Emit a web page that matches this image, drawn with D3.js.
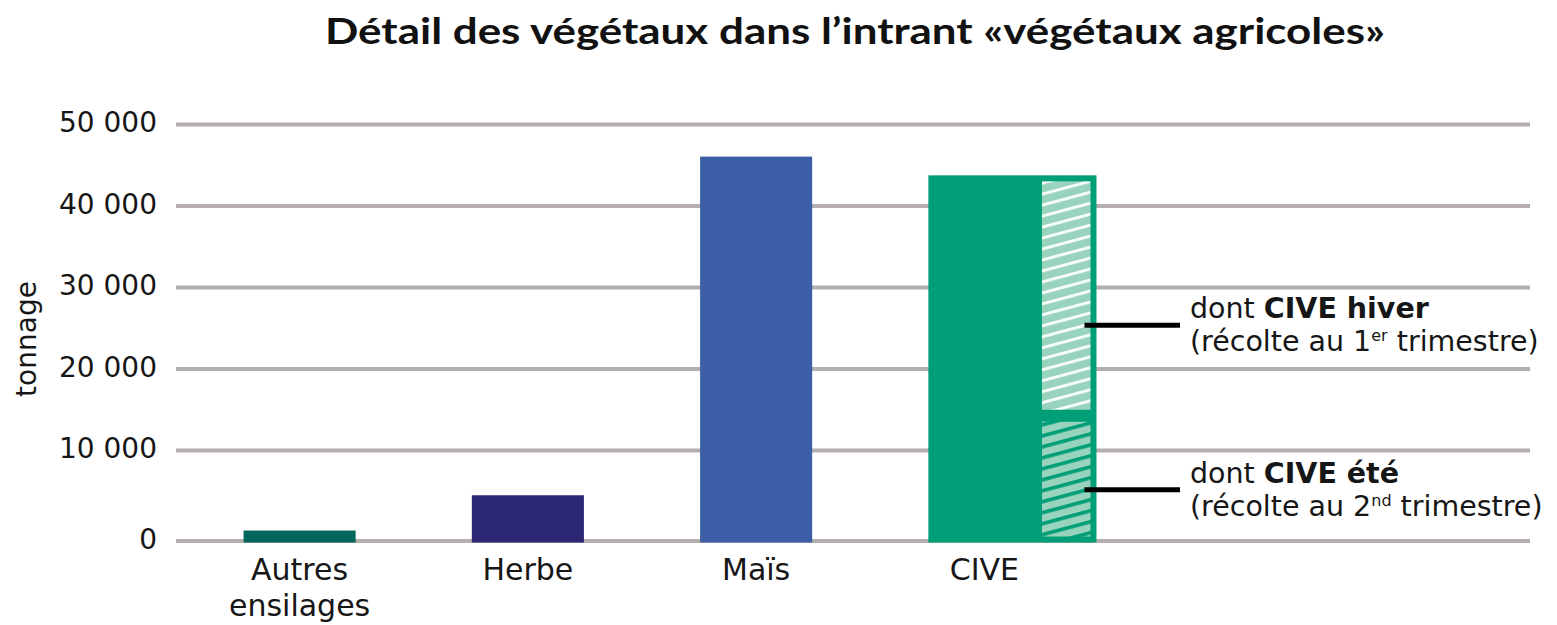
<!DOCTYPE html>
<html>
<head>
<meta charset="utf-8">
<script src="https://cdn.jsdelivr.net/npm/d3@7"></script>
<style>
  body { margin: 0; background: #fff; }
  svg { display: block; }
</style>
</head>
<body>
<div id="chart"></div>
<script>
// data (tonnes)
const categories = ["Autres ensilages", "Herbe", "Maïs", "CIVE"];
const labelLines = [["Autres", "ensilages"], ["Herbe"], ["Maïs"], ["CIVE"]];
const tonnage = [1100, 5000, 46000, 43700];
const barColors = ["#02665a", "#2b2773", "#3b5ea7", "#009f77"];
// split of the CIVE bar
const civeParts = ["été", "hiver"];
const civeValues = [14200, 29500];
const yTicks = [0, 10000, 20000, 30000, 40000, 50000];
// where the two callout lines point
const calloutValues = [25300, 5600];

const width = 1557, height = 625;

const svg = d3.select("#chart").append("svg")
  .attr("width", width)
  .attr("height", height);

// the zero line sits a little lower than the others in the original
const y = d3.scaleLinear()
  .domain([0, 10000, 50000])
  .range([540.5, 450, 124]);

const x = d3.scaleBand()
  .domain(categories)
  .range([176, 1108])
  .paddingInner(0.509)
  .paddingOuter(0.296);

const bw = x.bandwidth();

// hatch patterns
const defs = svg.append("defs");
function hatch(id, stripe, sw) {
  const p = defs.append("pattern")
    .attr("id", id)
    .attr("patternUnits", "userSpaceOnUse")
    .attr("width", 20)
    .attr("height", 10.6)
    .attr("patternTransform", "rotate(-15)");
  p.append("rect").attr("width", 20).attr("height", 10.6).attr("fill", "#97d3bd");
  p.append("rect").attr("y", 0).attr("width", 20).attr("height", sw).attr("fill", stripe);
}
hatch("hatch-hiver", "#f4fbf8", 3);
hatch("hatch-ete", "#009f77", 3.6);

// title
svg.append("text")
  .attr("x", 325)
  .attr("y", 44)
  .attr("textLength", 1060)
  .attr("lengthAdjust", "spacingAndGlyphs")
  .style("font-family", "Lato")
  .style("font-weight", "bold")
  .style("font-size", "36px")
  .style("fill", "#111")
  .text("Détail des végétaux dans l’intrant «végétaux agricoles»");

// grid lines
const yAxis = d3.axisLeft(y).tickValues(yTicks)
  .tickSize(-(1530 - 176))
  .tickPadding(19)
  .tickFormat(d => d3.format(",")(d).replace(/,/g, " "));

const gy = svg.append("g")
  .attr("transform", "translate(176,0)")
  .call(yAxis);
gy.select(".domain").remove();
gy.selectAll(".tick line")
  .attr("stroke", "#b4afac")
  .attr("stroke-width", 4);
gy.selectAll(".tick text")
  .attr("dy", "0.28em")
  .style("font-family", "DejaVu Sans")
  .style("font-size", "28px")
  .style("fill", "#161616");

svg.append("text")
  .attr("transform", "translate(36,339) rotate(-90)")
  .attr("text-anchor", "middle")
  .style("font-family", "DejaVu Sans")
  .style("font-size", "28px")
  .style("fill", "#161616")
  .text("tonnage");

// bars
const base = y(0) + 2;
svg.selectAll("rect.bar")
  .data(categories)
  .join("rect")
  .attr("class", "bar")
  .attr("x", d => x(d))
  .attr("y", (d, i) => y(tonnage[i]))
  .attr("width", d => d === "CIVE" ? bw * 1.5 : bw)
  .attr("height", (d, i) => base - y(tonnage[i]))
  .attr("fill", (d, i) => barColors[i]);

// CIVE split, drawn inset inside the right part of the bar
const inset = 6;
const hatchRight = x("CIVE") + bw * 1.5 - inset;
const hatchW = 48.5;
let acc = 0;
const segs = civeValues.map((v, i) => {
  const s = { part: civeParts[i], y0: acc, y1: acc + v };
  acc += v;
  return s;
});
svg.selectAll("rect.seg")
  .data(segs)
  .join("rect")
  .attr("class", "seg")
  .attr("x", hatchRight - hatchW)
  .attr("width", hatchW)
  .attr("y", d => y(d.y1) + inset)
  .attr("height", d => (d.y0 === 0 ? base : y(d.y0)) - y(d.y1) - 2 * inset)
  .attr("fill", d => d.part === "hiver" ? "url(#hatch-hiver)" : "url(#hatch-ete)");

// category labels
const labels = svg.selectAll("text.cat")
  .data(categories)
  .join("text")
  .attr("class", "cat")
  .attr("x", d => x(d) + bw / 2)
  .attr("y", 580)
  .attr("text-anchor", "middle")
  .style("font-family", "DejaVu Sans")
  .style("font-size", "30px")
  .style("fill", "#161616");
labels.each(function(d, i) {
  d3.select(this).selectAll("tspan")
    .data(labelLines[i])
    .join("tspan")
    .attr("x", x(d) + bw / 2)
    .attr("dy", (t, j) => j === 0 ? 0 : 36)
    .text(t => t);
});

// callouts
const callouts = [
  { bold: "CIVE hiver", sup: "er", num: "1" },
  { bold: "CIVE été", sup: "nd", num: "2" }
];
const lineX0 = hatchRight - 6, lineX1 = 1180;
callouts.forEach((c, i) => {
  const cy = y(calloutValues[i]);
  svg.append("line")
    .attr("x1", lineX0).attr("x2", lineX1)
    .attr("y1", cy).attr("y2", cy)
    .attr("stroke", "#000")
    .attr("stroke-width", 5);
  const t = svg.append("text")
    .attr("x", 1190)
    .attr("y", cy - 7)
    .style("font-family", "DejaVu Sans")
    .style("font-size", "28.5px")
    .style("fill", "#161616");
  t.append("tspan").text("dont ");
  t.append("tspan").style("font-weight", "bold").text(c.bold);
  const t2 = svg.append("text")
    .attr("x", 1190)
    .attr("y", cy + 26)
    .style("font-family", "DejaVu Sans")
    .style("font-size", "28.5px")
    .style("fill", "#161616");
  t2.append("tspan").text("(récolte au " + c.num);
  t2.append("tspan").attr("dy", -10).style("font-size", "16px").text(c.sup);
  t2.append("tspan").attr("dy", 10).text(" trimestre)");
});
</script>
</body>
</html>
